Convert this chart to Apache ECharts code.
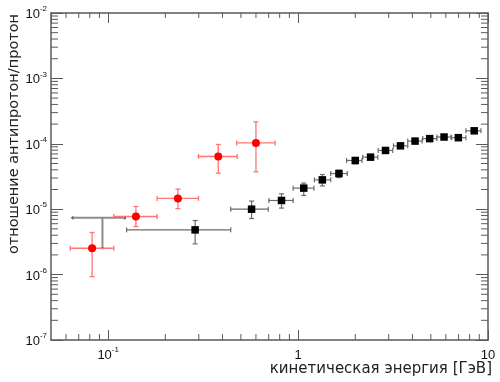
<!DOCTYPE html>
<html><head><meta charset="utf-8">
<script src="https://cdn.jsdelivr.net/npm/echarts@6/dist/echarts.min.js"></script>
<style>html,body{margin:0;padding:0;background:#fff}#c{width:500px;height:382px}</style>
</head><body><div id="c"></div>
<script>
// Red series (circles)
const redX    = [0.0823, 0.140, 0.233, 0.380, 0.600];
const redY    = [2.53e-6, 7.73e-6, 1.46e-5, 6.40e-5, 1.03e-4];
const redXlo  = [0.0632, 0.107, 0.181, 0.299, 0.475];
const redXhi  = [0.107, 0.181, 0.299, 0.478, 0.757];
const redYlo  = [9.3e-7, 5.43e-6, 1.02e-5, 3.56e-5, 3.73e-5];
const redYhi  = [4.4e-6, 1.10e-5, 2.03e-5, 9.77e-5, 2.17e-4];

// Black series (squares)
const blackX   = [0.287, 0.569, 0.818, 1.071, 1.342, 1.641, 2.0, 2.408, 2.887, 3.46, 4.13, 4.93, 5.87, 6.98, 8.46];
const blackY   = [4.83e-6, 1.0e-5, 1.36e-5, 2.10e-5, 2.81e-5, 3.51e-5, 5.56e-5, 6.25e-5, 7.91e-5, 9.31e-5, 1.10e-4, 1.20e-4, 1.27e-4, 1.24e-4, 1.58e-4];
const blackXlo = [0.125, 0.442, 0.702, 0.942, 1.219, 1.485, 1.80, 2.19, 2.64, 3.18, 3.78, 4.53, 5.39, 6.43, 7.65];
const blackXhi = [0.442, 0.696, 0.942, 1.213, 1.485, 1.816, 2.17, 2.63, 3.15, 3.78, 4.50, 5.37, 6.38, 7.65, 9.18];
const blackYlo = [2.95e-6, 7.2e-6, 1.04e-5, 1.62e-5, 2.27e-5, 3.05e-5, 4.94e-5, 5.7e-5, 7.2e-5, 8.6e-5, 1.02e-4, 1.12e-4, 1.19e-4, 1.16e-4, 1.48e-4];
const blackYhi = [6.71e-6, 1.33e-5, 1.72e-5, 2.51e-5, 3.39e-5, 3.95e-5, 6.16e-5, 6.8e-5, 8.6e-5, 1.0e-4, 1.18e-4, 1.28e-4, 1.35e-4, 1.32e-4, 1.68e-4];

// Upper-limit marker (grey)
const limitX   = [0.0933];
const limitY   = [7.38e-6];
const limitXlo = [0.0641];
const limitXhi = [0.124];
const limitYlo = [2.45e-6];

// Axes
const xRange = [0.05, 10];
const yRange = [1e-7, 1e-2];
const xMinorTicks = [0.06,0.07,0.08,0.09,0.2,0.3,0.4,0.5,0.6,0.7,0.8,0.9,2,3,4,5,6,7,8,9];
const yMinorTicks = [2e-7,3e-7,4e-7,5e-7,6e-7,7e-7,8e-7,9e-7,
  2e-6,3e-6,4e-6,5e-6,6e-6,7e-6,8e-6,9e-6,
  2e-5,3e-5,4e-5,5e-5,6e-5,7e-5,8e-5,9e-5,
  2e-4,3e-4,4e-4,5e-4,6e-4,7e-4,8e-4,9e-4,
  2e-3,3e-3,4e-3,5e-3,6e-3,7e-3,8e-3,9e-3];
const xTitle = 'кинетическая энергия [ГэВ]';
const yTitle = 'отношение антипротон/протон';

const axisColor = '#5a5a5a';
const labelFont = '"Liberation Sans", Arial, sans-serif';
const rich = {
  b: {fontSize: 13, fontFamily: labelFont, color: '#111', lineHeight: 16, verticalAlign: 'bottom'},
  s: {fontSize: 8, fontFamily: labelFont, color: '#111', lineHeight: 8, verticalAlign: 'top'}
};
function pow10Label(v, plainSmall) {
  const e = Math.log10(v);
  const r = Math.round(e);
  if (Math.abs(e - r) > 1e-6) return '';
  if (plainSmall && r === 0) return '{b|1}';
  if (plainSmall && r === 1) return '{b|10}';
  return '{b|10}{s|' + r + '}';
}

function errRender(color, lw, cap) {
  return function (params, api) {
    const x = api.value(0), y = api.value(1), xl = api.value(2), xh = api.value(3), yl = api.value(4), yh = api.value(5);
    const pL = api.coord([xl, y]), pR = api.coord([xh, y]), pT = api.coord([x, yh]), pB = api.coord([x, yl]);
    const st = {stroke: color, lineWidth: lw};
    const L = (x1, y1, x2, y2) => ({type: 'line', shape: {x1, y1, x2, y2}, style: st});
    return {type: 'group', children: [
      L(pL[0], pL[1], pR[0], pR[1]),
      L(pL[0], pL[1] - cap, pL[0], pL[1] + cap),
      L(pR[0], pR[1] - cap, pR[0], pR[1] + cap),
      L(pT[0], pT[1], pB[0], pB[1]),
      L(pT[0] - cap, pT[1], pT[0] + cap, pT[1]),
      L(pB[0] - cap, pB[1], pB[0] + cap, pB[1])
    ]};
  };
}
function limitRender(params, api) {
  const x = api.value(0), y = api.value(1), xl = api.value(2), xh = api.value(3), yl = api.value(4);
  const pL = api.coord([xl, y]), pR = api.coord([xh, y]), pC = api.coord([x, y]), pB = api.coord([x, yl]);
  const st = {stroke: '#8c8c8c', lineWidth: 2};
  const dk = {stroke: '#444', lineWidth: 1};
  return {type: 'group', children: [
    {type: 'line', shape: {x1: pL[0], y1: pL[1], x2: pR[0], y2: pR[1]}, style: st},
    {type: 'line', shape: {x1: pC[0], y1: pC[1], x2: pB[0], y2: pB[1]}, style: st},
    {type: 'polyline', shape: {points: [[pL[0] + 2, pL[1] - 1.5], [pL[0], pL[1]], [pL[0] + 2, pL[1] + 1.5]]}, style: Object.assign({fill: 'none'}, dk)},
    {type: 'polyline', shape: {points: [[pR[0] - 2, pR[1] - 1.5], [pR[0], pR[1]], [pR[0] - 2, pR[1] + 1.5]]}, style: Object.assign({fill: 'none'}, dk)},
    {type: 'polyline', shape: {points: [[pB[0] - 1.5, pB[1] - 2], [pB[0], pB[1]], [pB[0] + 1.5, pB[1] - 2]]}, style: Object.assign({fill: 'none'}, dk)}
  ]};
}
function xTickRender(params, api) {
  const v = api.value(0);
  const b = api.coord([v, yRange[0]]), t = api.coord([v, yRange[1]]);
  const st = {stroke: axisColor, lineWidth: 1};
  return {type: 'group', children: [
    {type: 'line', shape: {x1: b[0], y1: b[1], x2: b[0], y2: b[1] - 6}, style: st},
    {type: 'line', shape: {x1: t[0], y1: t[1], x2: t[0], y2: t[1] + 5}, style: st}
  ]};
}
function yTickRender(params, api) {
  const v = api.value(1);
  const l = api.coord([xRange[0], v]), r = api.coord([xRange[1], v]);
  const st = {stroke: axisColor, lineWidth: 1};
  return {type: 'group', children: [
    {type: 'line', shape: {x1: l[0], y1: l[1], x2: l[0] + 7, y2: l[1]}, style: st},
    {type: 'line', shape: {x1: r[0], y1: r[1], x2: r[0] - 7, y2: r[1]}, style: st}
  ]};
}

const axisCommon = {
  type: 'log', logBase: 10,
  axisLine: {show: true, lineStyle: {color: axisColor, width: 1.5}},
  splitLine: {show: false},
  minorTick: {show: false}
};

const chart = echarts.init(document.getElementById('c'), null, {renderer: 'canvas'});
chart.setOption({
  animation: false,
  backgroundColor: '#fff',
  grid: {left: 51, right: 12, top: 13, bottom: 42},
  xAxis: [
    Object.assign({}, axisCommon, {min: xRange[0], max: xRange[1], position: 'bottom',
      axisTick: {show: true, inside: true, length: 10, lineStyle: {color: axisColor}},
      axisLabel: {showMinLabel: false, margin: 6, rich: rich, formatter: v => pow10Label(v, true)}}),
    Object.assign({}, axisCommon, {min: xRange[0], max: xRange[1], position: 'top',
      axisTick: {show: true, inside: true, length: 10, lineStyle: {color: axisColor}},
      axisLabel: {show: false}})
  ],
  yAxis: [
    Object.assign({}, axisCommon, {min: yRange[0], max: yRange[1], position: 'left',
      axisTick: {show: true, inside: true, length: 12, lineStyle: {color: axisColor}},
      axisLabel: {margin: 4, rich: rich, formatter: v => pow10Label(v, false)}}),
    Object.assign({}, axisCommon, {min: yRange[0], max: yRange[1], position: 'right',
      axisTick: {show: true, inside: true, length: 12, lineStyle: {color: axisColor}},
      axisLabel: {show: false}})
  ],
  graphic: [
    {type: 'text', x: 14, y: 134, rotation: Math.PI / 2,
      style: {text: yTitle, font: '14.5px "DejaVu Sans", sans-serif', fill: '#222', align: 'center', verticalAlign: 'middle'}},
    {type: 'text', x: 492, y: 369,
      style: {text: xTitle, font: '15px "DejaVu Sans", sans-serif', fill: '#222', align: 'right', verticalAlign: 'middle'}}
  ],
  series: [
    {type: 'custom', name: 'xticks', renderItem: xTickRender, silent: true, clip: false,
      data: xMinorTicks.map(v => [v, yRange[0]]), encode: {x: 0, y: 1}, z: 1},
    {type: 'custom', name: 'yticks', renderItem: yTickRender, silent: true, clip: false,
      data: yMinorTicks.map(v => [xRange[0], v]), encode: {x: 0, y: 1}, z: 1},
    {type: 'custom', name: 'limit', renderItem: limitRender, z: 2,
      data: limitX.map((v, i) => [v, limitY[i], limitXlo[i], limitXhi[i], limitYlo[i]]), encode: {x: 0, y: 1}},
    {type: 'custom', name: 'blackErr', renderItem: errRender('#6a6a6a', 1.2, 2.5), z: 3,
      data: blackX.map((v, i) => [v, blackY[i], blackXlo[i], blackXhi[i], blackYlo[i], blackYhi[i]]), encode: {x: 0, y: 1}},
    {type: 'custom', name: 'redErr', renderItem: errRender('#ff7474', 1.3, 2.5), z: 3,
      data: redX.map((v, i) => [v, redY[i], redXlo[i], redXhi[i], redYlo[i], redYhi[i]]), encode: {x: 0, y: 1}},
    {type: 'scatter', name: 'black', symbol: 'rect', symbolSize: 7.5, itemStyle: {color: '#000', opacity: 1}, z: 4,
      data: blackX.map((v, i) => [v, blackY[i]])},
    {type: 'scatter', name: 'red', symbol: 'circle', symbolSize: 8, itemStyle: {color: '#ff0000', opacity: 1}, z: 4,
      data: redX.map((v, i) => [v, redY[i]])}
  ]
});
</script></body></html>
